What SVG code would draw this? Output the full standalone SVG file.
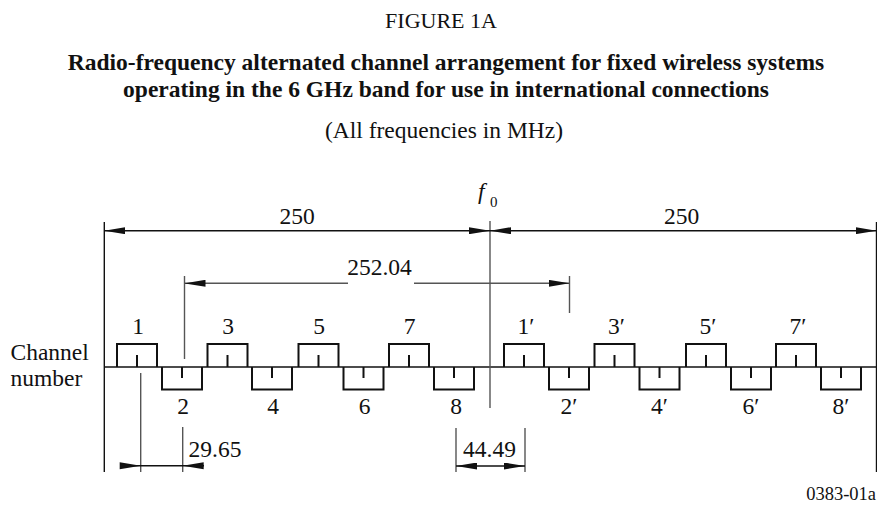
<svg xmlns="http://www.w3.org/2000/svg" width="877" height="508" viewBox="0 0 877 508">
<style>
text{font-family:"Liberation Serif","Times New Roman",serif;fill:#111}
.t{font-size:22px;text-anchor:middle}
.b{font-size:23.5px;font-weight:bold;text-anchor:middle}
.n{font-size:23.5px}
.m{text-anchor:middle}
.box{fill:none;stroke:#111;stroke-width:2}
.dim{fill:none;stroke:#111;stroke-width:1.4}
.g{fill:none;stroke:#555;stroke-width:1.4}
.ah{fill:#111}
</style>
<defs>
<marker id="ah" viewBox="0 0 21 7" refX="21" refY="3.5" markerWidth="21" markerHeight="7" markerUnits="userSpaceOnUse" orient="auto-start-reverse"><path d="M0,0 L21,3.5 L0,7 Z" fill="#111"/></marker>
</defs>
<g id="titles">
<text class="t" x="441" y="28">FIGURE 1A</text>
<text class="b" x="446" y="70">Radio-frequency alternated channel arrangement for fixed wireless systems</text>
<text class="b" x="446" y="97">operating in the 6 GHz band for use in international connections</text>
<text class="n m" x="444" y="138">(All frequencies in MHz)</text>
<text x="876" y="500" style="font-size:18.5px;text-anchor:end">0383-01a</text>
</g>
<g id="axis-label">
<text class="n" x="10.5" y="359.5">Channel</text>
<text class="n" x="10.5" y="386">number</text>
</g>
<g id="connectors">
<line class="dim" x1="104" y1="367" x2="877" y2="367"/>
<line class="dim" x1="104.3" y1="222" x2="104.3" y2="472"/>
<line class="dim" x1="876.5" y1="222" x2="876.5" y2="472"/>
<line class="g" x1="490" y1="221" x2="490" y2="408"/>
<line class="dim" x1="104.3" y1="230.7" x2="490" y2="230.7" marker-start="url(#ah)" marker-end="url(#ah)"/>
<line class="dim" x1="490" y1="230.7" x2="876.5" y2="230.7" marker-start="url(#ah)" marker-end="url(#ah)"/>
<line class="g" x1="184.5" y1="276" x2="184.5" y2="359"/>
<line class="g" x1="569.5" y1="276" x2="569.5" y2="313"/>
<line class="g" x1="184.5" y1="283.3" x2="348" y2="283.3" marker-start="url(#ah)"/>
<line class="g" x1="414" y1="283.3" x2="569.5" y2="283.3" marker-end="url(#ah)"/>
<line class="g" x1="140.7" y1="373" x2="140.7" y2="472"/>
<line class="g" x1="182.7" y1="427" x2="182.7" y2="472"/>
<line class="dim" x1="120" y1="465.7" x2="204" y2="465.7"/>
<path class="ah" d="M140.7,465.7 L119.7,462.2 L119.7,469.2 Z"/>
<path class="ah" d="M182.7,465.7 L203.7,462.2 L203.7,469.2 Z"/>
<line class="g" x1="456" y1="428" x2="456" y2="472"/>
<line class="g" x1="525" y1="428" x2="525" y2="472"/>
<line class="dim" x1="456" y1="466" x2="525" y2="466" marker-start="url(#ah)" marker-end="url(#ah)"/>
</g>
<g id="dim-labels">
<text class="n m" x="297" y="224.3">250</text>
<text class="n m" x="681.5" y="224.3">250</text>
<text class="n m" x="379.5" y="274.5">252.04</text>
<text class="n" x="188.5" y="456.5">29.65</text>
<text class="n" x="463" y="457.3">44.49</text>
<text x="478" y="199" style="font-size:23.5px;font-style:italic">f</text>
<text x="490" y="207.3" style="font-size:15px">0</text>
</g>
<g id="ch1"><path class="box" d="M117,367V344H157V367M137,367V355"/><text class="n m" x="138" y="334">1</text></g>
<g id="ch3"><path class="box" d="M207.5,367V344H247.5V367M227.5,367V355"/><text class="n m" x="228" y="334">3</text></g>
<g id="ch5"><path class="box" d="M298.5,367V344H338.5V367M318.5,367V355"/><text class="n m" x="319" y="334">5</text></g>
<g id="ch7"><path class="box" d="M389,367V344H429V367M409,367V355"/><text class="n m" x="409.5" y="334">7</text></g>
<g id="ch2"><path class="box" d="M162,367V389.5H202V367M182,367V378"/><text class="n m" x="183" y="414">2</text></g>
<g id="ch4"><path class="box" d="M252,367V389.5H292V367M272,367V378"/><text class="n m" x="273" y="414">4</text></g>
<g id="ch6"><path class="box" d="M343.5,367V389.5H383.5V367M363.5,367V378"/><text class="n m" x="364.5" y="414">6</text></g>
<g id="ch8"><path class="box" d="M434,367V389.5H474V367M454,367V378"/><text class="n m" x="456" y="414">8</text></g>
<g id="ch1p"><path class="box" d="M504,367V344H544V367M524,367V355"/><text class="n m" x="526" y="334">1′</text></g>
<g id="ch3p"><path class="box" d="M594.5,367V344H634.5V367M614.5,367V355"/><text class="n m" x="616.5" y="334">3′</text></g>
<g id="ch5p"><path class="box" d="M686,367V344H726V367M706,367V355"/><text class="n m" x="708" y="334">5′</text></g>
<g id="ch7p"><path class="box" d="M776,367V344H816V367M796,367V355"/><text class="n m" x="798" y="334">7′</text></g>
<g id="ch2p"><path class="box" d="M549,367V389.5H589V367M569,367V378"/><text class="n m" x="569" y="414">2′</text></g>
<g id="ch4p"><path class="box" d="M639.5,367V389.5H679.5V367M659.5,367V378"/><text class="n m" x="659.5" y="414">4′</text></g>
<g id="ch6p"><path class="box" d="M731,367V389.5H771V367M751,367V378"/><text class="n m" x="751" y="414">6′</text></g>
<g id="ch8p"><path class="box" d="M821,367V389.5H861V367M841,367V378"/><text class="n m" x="841" y="414">8′</text></g>
</svg>
